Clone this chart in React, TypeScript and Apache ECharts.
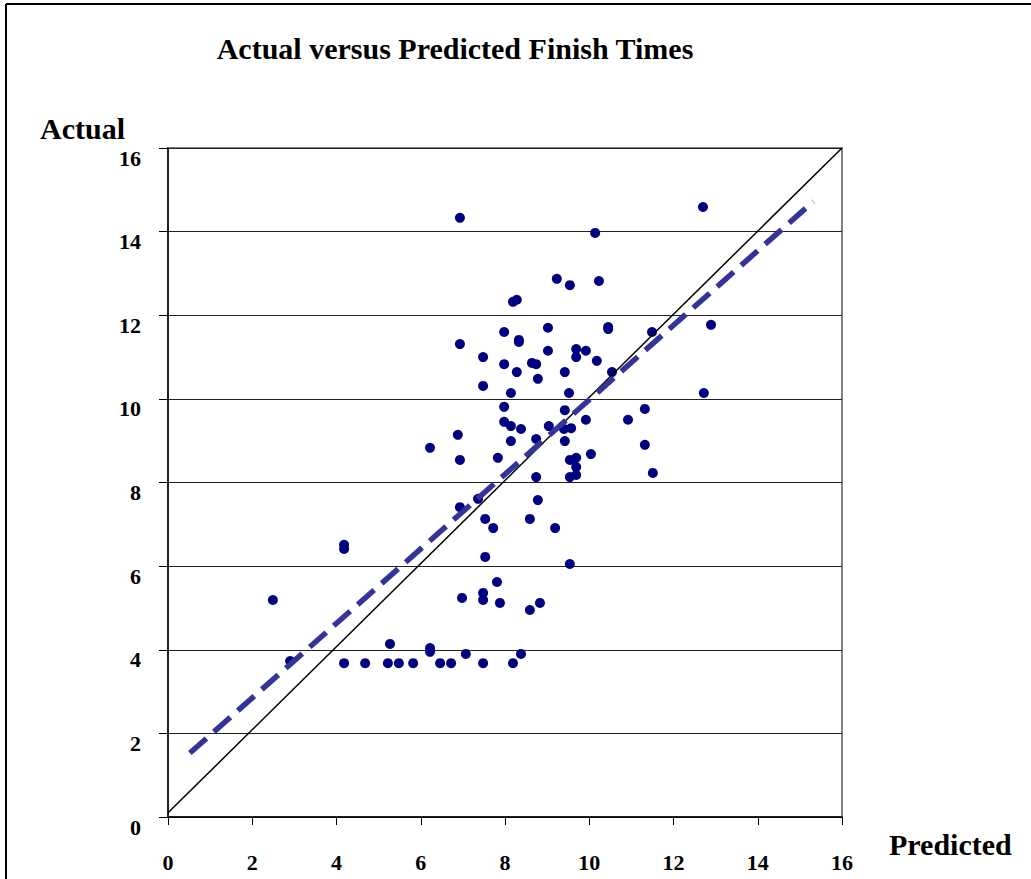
import React, { useEffect, useRef } from "react";
import * as echarts from "echarts";

// Predicted finish times (x) and actual finish times (y), paired by index.
const predicted: number[] = [
  6.93, 12.70, 10.14, 9.23, 10.23, 9.54, 8.19, 8.28, 10.45, 10.45,
  9.02, 7.98, 11.49, 12.89, 6.93, 8.33, 8.33, 9.02, 9.69, 9.69,
  9.92, 7.48, 10.18, 7.98, 8.64, 8.74, 8.28, 9.42, 10.54, 7.48,
  8.78, 8.14, 9.52, 7.98, 9.42, 11.32, 12.72, 10.92, 9.92, 7.98,
  8.14, 8.38, 9.04, 9.40, 9.57, 6.88, 8.14, 8.74, 9.42, 11.32,
  6.22, 10.04, 7.83, 9.54, 9.69, 6.93, 9.69, 9.54, 9.69, 8.74,
  11.51, 6.93, 7.36, 8.78, 7.53, 8.59, 7.72, 9.19, 7.53, 9.54,
  4.18, 4.18, 7.81, 2.49, 6.98, 7.48, 7.48, 7.88, 8.83, 8.59,
  5.27, 6.22, 6.22, 7.07, 8.38, 2.90, 4.18, 4.68, 5.22, 5.48,
  5.82, 6.46, 6.72, 7.48, 8.19,
];

const actual: number[] = [
  14.33, 14.59, 13.97, 12.87, 12.82, 12.72, 12.32, 12.37, 11.72, 11.67,
  11.70, 11.60, 11.60, 11.77, 11.31, 11.41, 11.36, 11.15, 11.19, 11.00,
  11.15, 11.00, 10.91, 10.83, 10.86, 10.83, 10.64, 10.64, 10.64, 10.31,
  10.48, 10.14, 10.14, 9.81, 9.73, 9.76, 10.14, 9.50, 9.50, 9.45,
  9.35, 9.28, 9.35, 9.28, 9.30, 9.14, 8.99, 9.04, 8.99, 8.90,
  8.83, 8.68, 8.59, 8.54, 8.59, 8.54, 8.37, 8.13, 8.18, 8.13,
  8.23, 7.41, 7.61, 7.58, 7.13, 7.13, 6.91, 6.91, 6.22, 6.05,
  6.51, 6.41, 5.62, 5.19, 5.24, 5.36, 5.19, 5.12, 5.12, 4.95,
  4.14, 4.04, 3.95, 3.90, 3.90, 3.73, 3.68, 3.68, 3.68, 3.68,
  3.68, 3.68, 3.68, 3.68, 3.68,
];

// Fitted trend (dashed) and the line of perfect prediction (solid).
const trendLine: number[][] = [
  [0.52, 1.53],
  [15.32, 14.72],
];
const perfectLine: number[][] = [
  [0, 0.1],
  [16, 16],
];

const axisTicks = { min: 0, max: 16, interval: 2 };

const TITLE = "Actual versus Predicted Finish Times";
const X_NAME = "Predicted";
const Y_NAME = "Actual";

const FONT = "Liberation Serif";

export default function App() {
  const ref = useRef<HTMLDivElement>(null);

  useEffect(() => {
    if (!ref.current) return;
    const chart = echarts.init(ref.current, undefined, { renderer: "svg" });

    const points = predicted.map((p, i) => [p, actual[i]]);

    const labelStyle = {
      fontFamily: FONT,
      fontWeight: "bold" as const,
      fontSize: 22,
      color: "#000",
    };

    chart.setOption({
      animation: false,
      backgroundColor: "#fff",
      grid: {
        left: 168,
        top: 148,
        width: 674,
        height: 669,
        show: true,
        borderColor: "#808080",
        borderWidth: 2,
        backgroundColor: "transparent",
      },
      xAxis: {
        type: "value",
        ...axisTicks,
        axisLine: { show: true, onZero: false, lineStyle: { color: "#000", width: 1.5 } },
        axisTick: { show: true, length: 8, lineStyle: { color: "#000" } },
        splitLine: { show: false },
        axisLabel: { ...labelStyle, margin: 34 },
      },
      yAxis: {
        type: "value",
        ...axisTicks,
        axisLine: { show: true, onZero: false, lineStyle: { color: "#000", width: 1.5 } },
        axisTick: { show: true, length: 9, lineStyle: { color: "#000" } },
        splitLine: { show: true, lineStyle: { color: "#222", width: 1.2 } },
        axisLabel: { ...labelStyle, margin: 27, verticalAlign: "top", lineHeight: 20 },
      },
      graphic: [
        {
          type: "line",
          shape: { x1: 6, y1: 4, x2: 1031, y2: 4 },
          style: { stroke: "#000", lineWidth: 2 },
        },
        {
          type: "line",
          shape: { x1: 6, y1: 4, x2: 6, y2: 879 },
          style: { stroke: "#000", lineWidth: 2 },
        },
        {
          type: "text",
          x: 455,
          y: 48,
          style: {
            text: TITLE,
            font: `bold 30px ${FONT}`,
            fill: "#000",
            textAlign: "center",
            textVerticalAlign: "middle",
          },
        },
        {
          type: "text",
          x: 40,
          y: 128,
          style: {
            text: Y_NAME,
            font: `bold 30px ${FONT}`,
            fill: "#000",
            textAlign: "left",
            textVerticalAlign: "middle",
          },
        },
        {
          type: "text",
          x: 889,
          y: 844,
          style: {
            text: X_NAME,
            font: `bold 30px ${FONT}`,
            fill: "#000",
            textAlign: "left",
            textVerticalAlign: "middle",
          },
        },
      ],
      series: [
        {
          type: "scatter",
          data: points,
          symbol: "circle",
          symbolSize: 10,
          itemStyle: { color: "#000080", opacity: 1 },
          z: 2,
        },
        {
          type: "line",
          data: perfectLine,
          showSymbol: false,
          symbol: "none",
          lineStyle: { color: "#000", width: 1.5 },
          z: 3,
        },
        {
          type: "line",
          data: trendLine,
          showSymbol: false,
          symbol: "none",
          lineStyle: { color: "#333399", width: 5.5, type: [22, 10] },
          z: 4,
        },
      ],
    });

    return () => chart.dispose();
  }, []);

  return (
    <div
      ref={ref}
      style={{ position: "fixed", left: 0, top: 0, width: 1031, height: 879 }}
    />
  );
}
